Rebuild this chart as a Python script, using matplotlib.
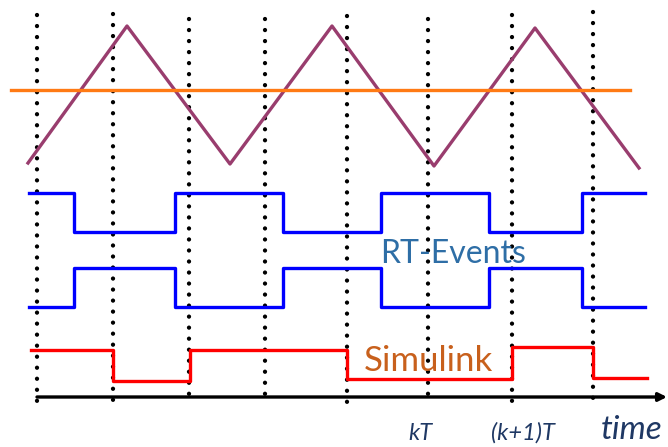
import matplotlib
matplotlib.use("Agg")
import matplotlib.pyplot as plt

# sampling instants (dotted lines), pixel-like coordinates
dot_x = [37, 113, 189, 265, 347, 428, 512, 593]
dot_top = [15, 14, 19, 19, 16, 19, 15, 12]
dot_bottom = 402

# triangle carrier
tri_x = [28, 127, 230, 332, 434, 535, 639]
tri_y = [163, 26, 164, 26, 166, 28, 168]

# reference level
ref_x = [11, 630]
ref_y = [90, 90]

# RT-Events signals
rt_x = [29, 74, 175, 283, 381, 489, 582, 645]
rt1_y = [193, 232, 193, 232, 193, 232, 193, 193]
rt2_y = [307, 268, 307, 268, 307, 268, 307, 307]

# Simulink signal
sim_x = [31, 113, 190, 347, 512, 593, 647]
sim_y = [350, 381, 350, 379, 347, 378, 378]

# time axis
axis_x = [37, 667]
axis_y = 397

fig = plt.figure(figsize=(6.68, 4.47), dpi=100)
ax = fig.add_axes([0, 0, 1, 1])
ax.set_xlim(0, 668)
ax.set_ylim(447, 0)
ax.axis('off')

for x, t in zip(dot_x, dot_top):
    ax.plot([x, x], [t, dot_bottom], color='black', lw=3.1,
            linestyle=(0, (0.01, 2.55)), dash_capstyle='round', zorder=1)

ax.plot(tri_x, tri_y, color='#993d6e', lw=2.4, zorder=2)
ax.plot(ref_x, ref_y, color='#ff7a14', lw=2.4, zorder=3)

ax.plot(rt_x, rt1_y, color='#0000ff', lw=2.4, drawstyle='steps-post', zorder=2)
ax.plot(rt_x, rt2_y, color='#0000ff', lw=2.4, drawstyle='steps-post', zorder=2)
ax.plot(sim_x, sim_y, color='#ff0000', lw=2.4, drawstyle='steps-post', zorder=2)

ax.annotate('', xy=(axis_x[1], axis_y), xytext=(axis_x[0], axis_y),
            arrowprops=dict(arrowstyle='-|>', color='black', lw=2.4,
                            mutation_scale=12, shrinkA=0, shrinkB=0))

ax.text(453, 254, 'RT-Events', color='#2e6ea6', fontsize=23, family='Lato',
        ha='center', va='center', zorder=4)
ax.text(428, 361, 'Simulink', color='#c8601c', fontsize=25, family='Lato',
        ha='center', va='center', zorder=4)

ax.text(420, 433, 'kT', color='#1f3864', fontsize=17, style='italic',
        family='Lato', ha='center', va='center')
ax.text(523, 433, '(k+1)T', color='#1f3864', fontsize=17, style='italic',
        family='Lato', ha='center', va='center')
ax.text(632, 430, 'time', color='#1f3864', fontsize=24, style='italic',
        family='Lato', ha='center', va='center')

fig.savefig('out.png', dpi=100)
